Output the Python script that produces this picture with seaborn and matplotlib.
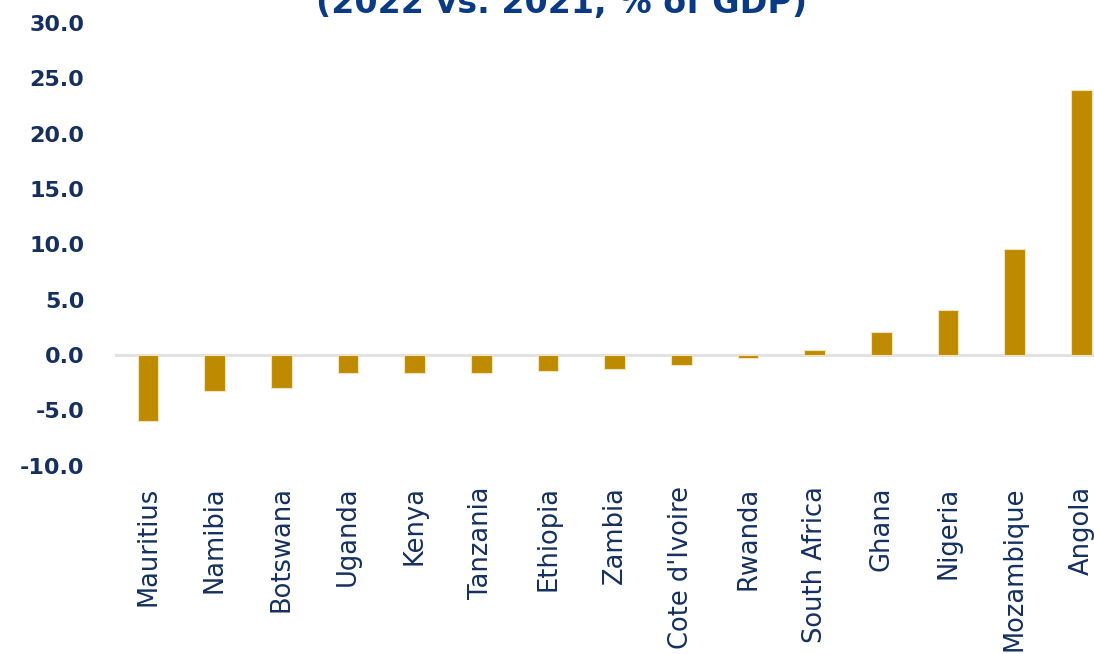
import matplotlib
matplotlib.use("Agg")
import matplotlib.pyplot as plt
import seaborn as sns
import pandas as pd

countries = ["Mauritius", "Namibia", "Botswana", "Uganda", "Kenya", "Tanzania",
             "Ethiopia", "Zambia", "Cote d'Ivoire", "Rwanda", "South Africa",
             "Ghana", "Nigeria", "Mozambique", "Angola"]
values = [-6.0, -3.3, -3.0, -1.6, -1.6, -1.6, -1.5, -1.3, -0.9, -0.3, 0.4,
          2.1, 4.1, 9.6, 23.9]
yticks = [-10, -5, 0, 5, 10, 15, 20, 25, 30]
title_text = "(2022 vs. 2021, % of GDP)"

sns.set_theme(style="white")
plt.rcParams['font.family'] = ['DejaVu Sans']

df = pd.DataFrame({"country": countries, "value": values})

fig = plt.figure(figsize=(10.94, 6.54), dpi=100)
ax = fig.add_axes([114.7 / 1094, (654 - 465.5) / 654, 1000 / 1094, 442.5 / 654])

ax.axhline(0, color="#E2E2E2", lw=2.2, zorder=0)
sns.barplot(data=df, x="country", y="value", color="#BE8A00", saturation=1,
            width=0.31, edgecolor="#F3E3B5", linewidth=0.8, ax=ax, zorder=2)

ax.set_xlim(-0.5, len(countries) - 0.5)
ax.set_ylim(-10, 30)
ax.set_yticks(yticks)
ax.set_yticklabels([f"{v:.1f}" for v in yticks], fontsize=16, fontweight="bold",
                   color="#15305F")
ax.set_xticks(range(len(countries)))
ax.set_xticklabels(countries, rotation=90, fontsize=18.5, color="#15305F")
ax.tick_params(axis="y", length=0, pad=22)
ax.tick_params(axis="x", length=0, pad=15)
ax.set_xlabel("")
ax.set_ylabel("")
for s in ax.spines.values():
    s.set_visible(False)
ax.grid(False)

fig.text(561.5 / 1094, 1 - 13.3 / 654, title_text, ha="center", va="baseline",
         fontsize=24, fontweight="bold", color="#0B3A84")

fig.savefig("out.png", dpi=100)
